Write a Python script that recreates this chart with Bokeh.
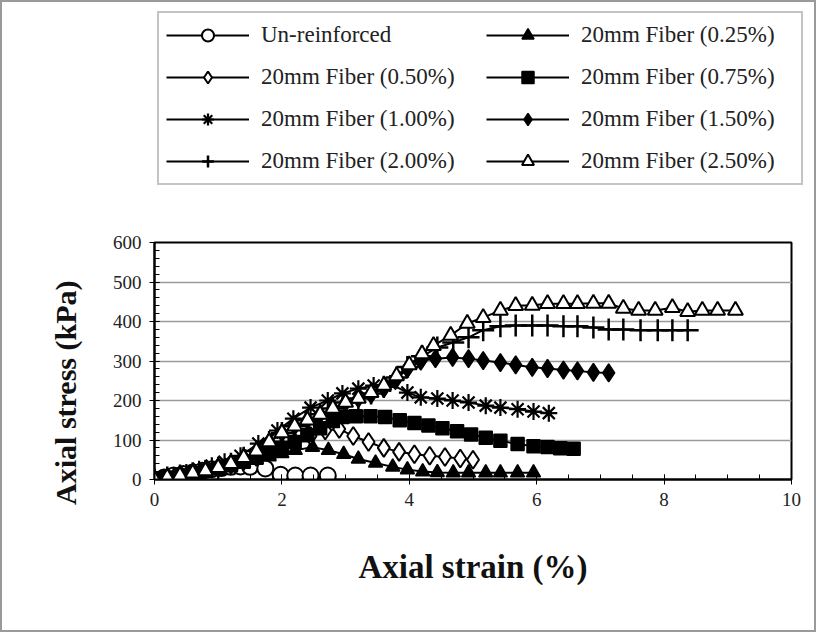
from bokeh.plotting import figure
from bokeh.layouts import column
from bokeh.models import Legend, LegendItem, Title, SingleIntervalTicker, Range1d
from bokeh.embed import file_html
from bokeh.resources import INLINE

# ---- data (axial strain %, axial stress kPa) ----
labels = ["Un-reinforced", "20mm Fiber (0.25%)", "20mm Fiber (0.50%)", "20mm Fiber (0.75%)",
          "20mm Fiber (1.00%)", "20mm Fiber (1.50%)", "20mm Fiber (2.00%)", "20mm Fiber (2.50%)"]

x_unre = [0, 0.15, 0.3, 0.45, 0.6, 0.75, 0.9, 1.05, 1.2, 1.35, 1.5, 1.74, 1.98, 2.21, 2.45, 2.72]
y_unre = [0, 5, 10, 14, 18, 22, 26, 29, 32, 33, 32, 28, 12, 10, 10, 10]

x_025 = [0, 0.2, 0.4, 0.6, 0.8, 1.0, 1.2, 1.4, 1.6, 1.8, 2.0, 2.21, 2.48, 2.73, 2.97, 3.2, 3.47,
         3.74, 3.97, 4.21, 4.44, 4.69, 4.93, 5.2, 5.43, 5.7, 5.95]
y_025 = [0, 5, 10, 15, 20, 27, 34, 42, 50, 58, 66, 74, 82, 74, 64, 52, 42, 32, 25, 20, 18, 17, 17,
         17, 17, 17, 17]

x_050 = [0, 0.2, 0.4, 0.6, 0.8, 1.0, 1.2, 1.4, 1.6, 1.8, 2.0, 2.2, 2.45, 2.68, 2.9, 3.12, 3.36,
         3.6, 3.84, 4.08, 4.32, 4.56, 4.8, 5.0]
y_050 = [0, 5, 11, 17, 23, 30, 38, 47, 57, 68, 80, 95, 110, 124, 128, 110, 95, 80, 70, 64, 60, 57,
         53, 50]

x_075 = [0, 0.2, 0.4, 0.6, 0.8, 1.0, 1.2, 1.4, 1.6, 1.8, 2.0, 2.2, 2.4, 2.6, 2.8, 2.95, 3.16, 3.39,
         3.62, 3.85, 4.08, 4.3, 4.52, 4.75, 4.97, 5.2, 5.43, 5.7, 5.95, 6.17, 6.37, 6.58]
y_075 = [0, 5, 10, 16, 22, 28, 36, 45, 55, 67, 80, 95, 112, 130, 148, 158, 160, 160, 158, 150, 143,
         137, 130, 122, 114, 106, 98, 90, 84, 82, 79, 78]

x_100 = [0, 0.15, 0.3, 0.5, 0.7, 0.9, 1.1, 1.35, 1.63, 1.93, 2.18, 2.45, 2.72, 2.95, 3.2, 3.44, 3.7,
         3.97, 4.18, 4.44, 4.68, 4.93, 5.2, 5.43, 5.7, 5.95, 6.19]
y_100 = [0, 5, 10, 18, 26, 35, 45, 60, 91, 124, 154, 182, 200, 218, 230, 238, 243, 220, 208, 205,
         200, 195, 187, 182, 178, 172, 168]

x_150 = [0, 0.2, 0.4, 0.6, 0.8, 1.0, 1.2, 1.4, 1.6, 1.8, 2.0, 2.2, 2.4, 2.6, 2.8, 3.0, 3.2, 3.4, 3.6,
         3.8, 3.97, 4.18, 4.41, 4.68, 4.93, 5.16, 5.43, 5.67, 5.93, 6.17, 6.42, 6.64, 6.89, 7.13]
y_150 = [0, 5, 10, 16, 22, 30, 40, 55, 72, 95, 118, 135, 150, 165, 180, 195, 205, 215, 230, 255,
         280, 300, 306, 309, 306, 301, 296, 290, 284, 281, 277, 275, 271, 270]

x_200 = [0, 0.2, 0.4, 0.6, 0.8, 1.0, 1.2, 1.4, 1.6, 1.8, 2.0, 2.2, 2.4, 2.6, 2.8, 3.0, 3.2, 3.4, 3.6,
         3.8, 3.97, 4.2, 4.44, 4.69, 4.93, 5.16, 5.43, 5.67, 5.93, 6.17, 6.42, 6.64, 6.89, 7.13, 7.36,
         7.63, 7.9, 8.13, 8.37]
y_200 = [0, 5, 10, 16, 22, 30, 40, 55, 72, 95, 118, 135, 150, 165, 180, 195, 205, 218, 235, 258,
         285, 312, 334, 347, 360, 378, 388, 390, 390, 390, 388, 388, 385, 380, 380, 378, 378, 378, 378]

x_250 = [0, 0.2, 0.4, 0.6, 0.8, 1.0, 1.2, 1.4, 1.6, 1.8, 2.0, 2.2, 2.4, 2.6, 2.8, 3.0, 3.2, 3.4, 3.6,
         3.8, 4.0, 4.2, 4.38, 4.65, 4.91, 5.16, 5.43, 5.67, 5.93, 6.17, 6.42, 6.64, 6.89, 7.13, 7.36,
         7.6, 7.86, 8.13, 8.37, 8.6, 8.84, 9.12]
y_250 = [0, 5, 10, 16, 22, 30, 40, 55, 72, 95, 118, 135, 150, 165, 180, 195, 205, 220, 238, 262,
         290, 318, 339, 365, 395, 410, 428, 440, 441, 445, 445, 445, 446, 446, 433, 428, 428, 435,
         425, 428, 428, 428]

xs = [x_unre, x_025, x_050, x_075, x_100, x_150, x_200, x_250]
ys = [y_unre, y_025, y_050, y_075, y_100, y_150, y_200, y_250]

# marker styles: (marker, size, fill, line_width)
styles = [
    ("circle", 16, "white", 2),
    ("triangle", 14, "black", 1.5),
    ("diamond", 18, "white", 2),
    ("square", 13, "black", 1.5),
    ("asterisk", 17, "black", 2.2),
    ("diamond", 18, "black", 1.5),
    ("cross", 22, "black", 2.5),
    ("triangle", 15, "white", 2),
]

W = 812
H_LEG = 226
H_MAIN = 402
TOP = 14

# ---- main chart ----
p = figure(width=W, height=H_MAIN, output_backend="svg", toolbar_location=None,
           x_range=Range1d(0, 10), y_range=Range1d(0, 600),
           min_border_left=152, min_border_right=23, min_border_top=TOP,
           min_border_bottom=H_MAIN - TOP - 237)

p.background_fill_color = "white"
p.border_fill_color = "white"
p.outline_line_color = "black"
p.outline_line_width = 2
p.xgrid.visible = False
p.ygrid.grid_line_color = "#9a9a9a"
p.ygrid.grid_line_width = 1.5

p.xaxis.ticker = SingleIntervalTicker(interval=2, num_minor_ticks=4)
p.yaxis.ticker = SingleIntervalTicker(interval=100, num_minor_ticks=5)

for ax in (p.xaxis[0], p.yaxis[0]):
    ax.axis_line_color = "black"
    ax.axis_line_width = 2
    ax.major_tick_line_color = "black"
    ax.minor_tick_line_color = "black"
    ax.major_tick_in = 5
    ax.major_tick_out = 5
    ax.minor_tick_in = 5
    ax.minor_tick_out = 0
    ax.major_label_text_font = "Liberation Serif"
    ax.major_label_text_font_size = "19px"
    ax.major_label_text_color = "#222222"

p.xaxis.major_label_standoff = 8
p.yaxis.major_label_standoff = 8
p.xaxis.axis_label = "Axial strain (%)"
p.xaxis.axis_label_text_font = "Liberation Serif"
p.xaxis.axis_label_text_font_style = "bold"
p.xaxis.axis_label_text_font_size = "33px"
p.xaxis.axis_label_text_color = "#111111"
p.xaxis.axis_label_standoff = 40

ytitle = Title(text="Axial stress (kPa)", align="right", offset=38, standoff=56,
               text_font="Liberation Serif", text_font_style="bold", text_font_size="30px",
               text_color="#111111")
p.add_layout(ytitle, "left")

for x, y, (mk, sz, fc, lw) in zip(xs, ys, styles):
    p.line(x, y, line_color="black", line_width=2)
    p.scatter(x, y, marker=mk, size=sz, fill_color=fc, line_color="black", line_width=lw)

# ---- legend panel: hidden copies of the series, used only as legend keys ----
lf = figure(width=W, height=H_LEG, output_backend="svg", toolbar_location=None,
            x_range=Range1d(0, 10), y_range=Range1d(0, 600), min_border=0)
lf.frame_align = False
lf.axis.visible = False
lf.grid.visible = False
lf.outline_line_color = None
lf.background_fill_color = "white"
lf.border_fill_color = "white"

items = {}
for lab, x, y, (mk, sz, fc, lw) in zip(labels, xs, ys, styles):
    lr = lf.line(x, y, line_color="black", line_width=2, visible=False)
    sr = lf.scatter(x, y, marker=mk, size=sz, fill_color=fc, line_color="black",
                    line_width=lw, visible=False)
    items[lab] = LegendItem(label=lab, renderers=[lr, sr])

order = [labels[0], labels[2], labels[4], labels[6], labels[1], labels[3], labels[5], labels[7]]
legend = Legend(items=[items[k] for k in order], orientation="vertical", ncols=2,
                location=(155, 43), margin=0, glyph_width=83, glyph_height=30,
                label_width=213, label_height=22, label_standoff=12, spacing=12, padding=7,
                label_text_font="Liberation Serif", label_text_font_size="23px",
                label_text_color="#222222", border_line_color="#8a8a8a", border_line_width=2,
                background_fill_color="white", background_fill_alpha=1.0,
                inactive_fill_alpha=0.0)
lf.add_layout(legend)

layout = column(lf, p, spacing=0)
layout.styles = {"border": "2px solid #9a9a9a"}

open("out.html", "w").write(file_html(layout, INLINE))
